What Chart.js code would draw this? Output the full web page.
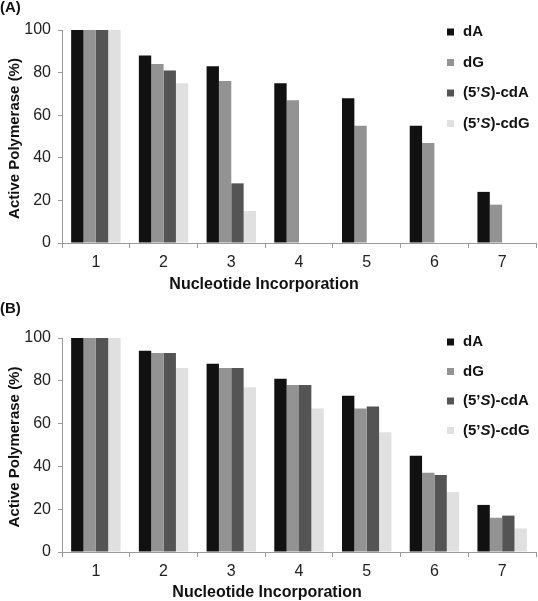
<!DOCTYPE html>
<html>
<head>
<meta charset="utf-8">
<script src="https://cdn.jsdelivr.net/npm/chart.js@4.4.0/dist/chart.umd.min.js"></script>
<style>
  html, body { margin: 0; padding: 0; background: #fff; }
  canvas { display: block; }
</style>
</head>
<body>
<canvas id="chartA" width="538" height="300"></canvas>
<canvas id="chartB" width="538" height="301"></canvas>
<script>
// polymerase activity per nucleotide step

const steps = ['1', '2', '3', '4', '5', '6', '7'];
const seriesNames = ['dA', 'dG', "(5'S)-cdA", "(5'S)-cdG"];
const seriesColors = ['#111111', '#939393', '#545454', '#e0e0e0'];
const yTicks = [0, 20, 40, 60, 80, 100];

// panel A
const dA_A  = [100, 88, 83, 75, 68, 55, 24];
const dG_A  = [100, 84, 76, 67, 55, 47, 18];
const cdA_A = [100, 81, 28, 0, 0, 0, 0];
const cdG_A = [100, 75, 15, 0, 0, 0, 0];

// panel B
const dA_B  = [100, 94, 88, 81, 73, 45, 22];
const dG_B  = [100, 93, 86, 78, 67, 37, 16];
const cdA_B = [100, 93, 86, 78, 68, 36, 17];
const cdG_B = [100, 86, 77, 67, 56, 28, 11];

const FONT = 'Liberation Sans, Arial, sans-serif';
const AXIS = '#9a9a9a';

// draws the panel letter, axis titles and the legend (with the italic S)
const extras = {
    id: 'extras',
    afterDraw(chart, args, opts) {
        const c = chart.ctx;
        const area = chart.chartArea;
        c.save();
        c.fillStyle = '#111';
        c.textBaseline = 'middle';

        c.font = 'bold 15px ' + FONT;
        c.textAlign = 'left';
        c.fillText(opts.panel, 0, opts.panelY);

        c.font = 'bold 16px ' + FONT;
        c.textAlign = 'center';
        c.fillText('Nucleotide Incorporation', opts.xTitleX, opts.xTitleY);

        c.save();
        c.translate(15, (area.top + area.bottom) / 2 + 2);
        c.rotate(-Math.PI / 2);
        c.font = 'bold 15px ' + FONT;
        c.fillText('Active Polymerase (%)', 0, 0);
        c.restore();

        c.textAlign = 'left';
        seriesNames.forEach((name, i) => {
            const y = opts.legendY + i * opts.legendStep;
            c.fillStyle = seriesColors[i];
            c.fillRect(447, y - 3.5, 7, 7);
            c.fillStyle = '#111';
            let x = 463;
            const parts = name.indexOf('S') >= 0
                ? [['(5\u2019', false], ['S', true], [name.slice(name.indexOf(')')), false]]
                : [[name, false]];
            parts.forEach(([txt, it]) => {
                c.font = (it ? 'italic ' : '') + 'bold 15px ' + FONT;
                c.fillText(txt, x, y);
                x += c.measureText(txt).width;
            });
        });
        c.restore();
    }
};

function makeChart(id, values, pad, xHeight, extraOpts) {
    const ctx = document.getElementById(id).getContext('2d');
    return new Chart(ctx, {
        type: 'bar',
        data: {
            labels: steps,
            datasets: seriesNames.map((name, i) => ({
                label: name,
                data: values[i],
                backgroundColor: seriesColors[i],
                borderWidth: 0,
                categoryPercentage: 0.73,
                barPercentage: 1
            }))
        },
        options: {
            responsive: false,
            devicePixelRatio: 1,
            animation: false,
            layout: { padding: pad },
            plugins: {
                legend: { display: false },
                tooltip: { enabled: false },
                extras: extraOpts
            },
            scales: {
                x: {
                    grid: {
                        display: true,
                        drawOnChartArea: false,
                        offset: true,
                        tickLength: 5,
                        color: AXIS
                    },
                    border: { color: AXIS },
                    ticks: {
                        font: { family: FONT, size: 16 },
                        color: '#222',
                        padding: 5,
                        maxRotation: 0
                    },
                    afterFit(s) { s.height = xHeight; }
                },
                y: {
                    min: 0,
                    max: 100,
                    afterBuildTicks(s) { s.ticks = yTicks.map(v => ({ value: v })); },
                    grid: {
                        display: true,
                        drawOnChartArea: false,
                        tickLength: 4,
                        color: AXIS
                    },
                    border: { color: AXIS },
                    ticks: {
                        font: { family: FONT, size: 16 },
                        color: '#222',
                        padding: 7
                    },
                    afterFit(s) { s.width = 62; }
                }
            }
        },
        plugins: [extras]
    });
}

makeChart('chartA', [dA_A, dG_A, cdA_A, cdG_A],
    { top: 30, right: 2, left: 0, bottom: 0 }, 57,
    { panel: '(A)', panelY: 8, xTitleX: 264, xTitleY: 285, legendY: 32, legendStep: 30.5 });

makeChart('chartB', [dA_B, dG_B, cdA_B, cdG_B],
    { top: 38, right: 2, left: 0, bottom: 0 }, 49,
    { panel: '(B)', panelY: 9, xTitleX: 267, xTitleY: 293, legendY: 42, legendStep: 29.5 });
</script>
</body>
</html>
